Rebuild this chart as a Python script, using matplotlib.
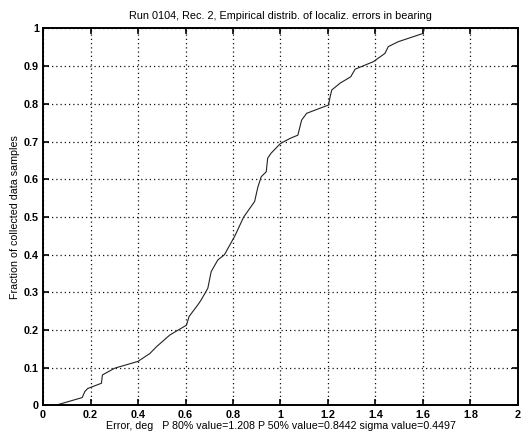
import matplotlib
matplotlib.use("Agg")
import matplotlib.pyplot as plt

plt.rcParams['font.family'] = ['Liberation Sans', 'DejaVu Sans']

# Empirical CDF of bearing localization error (deg)
error_deg = [0.05, 0.165, 0.176, 0.188, 0.246, 0.25, 0.302, 0.40, 0.45, 0.478,
             0.534, 0.604, 0.615, 0.652, 0.666, 0.694, 0.708, 0.736, 0.764,
             0.808, 0.845, 0.891, 0.905, 0.919, 0.94, 0.946, 0.96, 1.0, 1.042,
             1.073, 1.089, 1.11, 1.202, 1.209, 1.216, 1.251, 1.296, 1.314,
             1.391, 1.44, 1.454, 1.496, 1.601, 1.605]
fraction = [0.0, 0.021, 0.037, 0.045, 0.059, 0.081, 0.099, 0.117, 0.138, 0.156,
            0.187, 0.213, 0.236, 0.267, 0.28, 0.311, 0.355, 0.386, 0.40,
            0.45, 0.5, 0.541, 0.58, 0.607, 0.62, 0.656, 0.669, 0.695, 0.709,
            0.717, 0.757, 0.775, 0.797, 0.819, 0.837, 0.855, 0.872, 0.892,
            0.912, 0.934, 0.952, 0.965, 0.987, 1.0]

x_ticks = [0, 0.2, 0.4, 0.6, 0.8, 1, 1.2, 1.4, 1.6, 1.8, 2]
x_tick_labels = ['0', '0.2', '0.4', '0.6', '0.8', '1', '1.2', '1.4', '1.6', '1.8', '2']
y_ticks = [0, 0.1, 0.2, 0.3, 0.4, 0.5, 0.6, 0.7, 0.8, 0.9, 1]
y_tick_labels = ['0', '0.1', '0.2', '0.3', '0.4', '0.5', '0.6', '0.7', '0.8', '0.9', '1']

title = "Run 0104, Rec. 2, Empirical distrib. of localiz. errors in bearing"
xlabel = "Error, deg   P 80% value=1.208 P 50% value=0.8442 sigma value=0.4497"
ylabel = "Fraction of collected data samples"

fig = plt.figure(figsize=(5.24, 4.37), dpi=100)
ax = fig.add_axes([0.0821, 0.0721, 0.9064, 0.8627])

ax.plot(error_deg, fraction, color='#222222', linewidth=0.8)

ax.set_xlim(0, 2)
ax.set_ylim(0, 1)
ax.set_xticks(x_ticks)
ax.set_xticklabels(x_tick_labels)
ax.set_yticks(y_ticks)
ax.set_yticklabels(y_tick_labels)

ax.grid(True, color='#111111', linestyle=(0, (1, 2.4)), linewidth=0.9)
ax.tick_params(direction='in', length=4, width=1.2, top=True, right=True,
               labelsize=7.8, pad=3, colors='black')
for lab in ax.get_xticklabels() + ax.get_yticklabels():
    lab.set_fontweight('bold')
for sp in ax.spines.values():
    sp.set_linewidth(1.4)
    sp.set_color('black')

ax.set_title(title, fontsize=7.8, pad=7)
ax.set_xlabel(xlabel, fontsize=7.7, labelpad=1)
ax.set_ylabel(ylabel, fontsize=7.7, labelpad=3)

fig.savefig("out.png", dpi=100, facecolor='white')
